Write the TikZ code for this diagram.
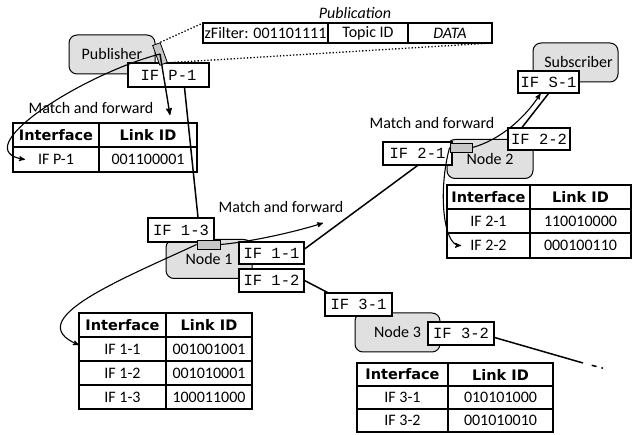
\documentclass[tikz,border=0pt]{standalone}
\usepackage{fontspec}
\setmainfont{Carlito}
\setmonofont{Liberation Mono}
\newfontfamily\headfont{DejaVu Sans}
\usetikzlibrary{arrows,positioning,calc}

\tikzset{
 host/.style={draw,rounded corners=8pt,fill=black!12,line width=1pt,minimum width=86pt,minimum height=39pt,font=\fontsize{16}{18}\selectfont},
 port/.style={draw,fill=black!22,inner sep=0pt,line width=0.8pt},
 ifbox/.style={draw,fill=white,line width=1.1pt,minimum width=65pt,minimum height=23pt,inner sep=0pt,font=\ttfamily\fontsize{15.5}{17}\selectfont},
 cell/.style={draw,line width=1.1pt,inner sep=0pt,outer sep=0pt,font=\fontsize{16}{18}\selectfont},
 head/.style={cell,font=\headfont\bfseries\fontsize{14.5}{17}\selectfont},
 note/.style={font=\fontsize{16}{18}\selectfont},
 link/.style={line width=1.5pt},
 fwd/.style={->,line width=1.1pt},
}

\begin{document}
\begin{tikzpicture}[x=1pt,y=-1pt,>=stealth']
 \useasboundingbox (0,0) rectangle (632,435);

 % hosts and nodes
 \node[host] (pub) at (112,54.5) {Publisher};
 \node[host,minimum width=85pt] (sub) at (575.5,62.5) {\hspace{6pt}Subscriber};
 \node[host] (n1) at (209,259) {Node 1};
 \node[host] (n2) at (490,159) {Node 2};
 \node[host,minimum width=85pt] (n3) at (397.5,332.5) {Node 3};

 % interfaces
 \node[ifbox,minimum width=81pt,minimum height=24pt] (ifP1) at (168.5,75) {IF P-1};
 \node[ifbox,minimum width=61pt,minimum height=22pt] (ifS1) at (548.5,82) {IF S-1};
 \node[ifbox,minimum width=66pt,minimum height=24pt] (if13) at (181,230) {IF 1-3};
 \node[ifbox,minimum height=22pt] (if11) at (271.5,253) {IF 1-1};
 \node[ifbox] (if12) at (271.5,280.5) {IF 1-2};
 \node[ifbox,minimum width=69pt] (if21) at (417.5,153.5) {IF 2-1};
 \node[ifbox,minimum width=62pt,minimum height=22pt] (if22) at (539,139) {IF 2-2};
 \node[ifbox,minimum width=67pt] (if31) at (358.5,304.5) {IF 3-1};
 \node[ifbox,minimum width=66pt] (if32) at (461,333.5) {IF 3-2};

 \node[port,minimum width=8pt,minimum height=21pt,rotate=20] (pp) at (160,54) {};
 \node[port,minimum width=23pt,minimum height=9pt] (p1) at (208.5,244.5) {};
 \node[port,minimum width=22pt,minimum height=9pt] (p2) at (461,147.5) {};

 % publication
 \node[cell,minimum width=125pt,minimum height=20pt,anchor=north west] (pk1) at (203,23) {zFilter: 001101111};
 \node[cell,minimum width=80pt,minimum height=20pt,right=0pt of pk1] (pk2) {Topic ID};
 \node[cell,minimum width=84pt,minimum height=20pt,right=0pt of pk2,font=\itshape\fontsize{16}{18}\selectfont] (pk3) {DATA};
 \node[note,font=\itshape\fontsize{16}{18}\selectfont] (pubn) at (355,13) {Publication};

 % forwarding tables
 \node[head,minimum width=86pt,minimum height=24pt,anchor=north west] (tPa) at (13,123) {Interface};
 \node[head,minimum width=98pt,minimum height=24pt,right=0pt of tPa] (tPb) {Link ID};
 \node[cell,minimum width=86pt,minimum height=25pt,below=0pt of tPa] (tPc) {IF P-1};
 \node[cell,minimum width=98pt,minimum height=25pt,below=0pt of tPb] (tPd) {001100001};

 \node[head,minimum width=87pt,minimum height=24pt,anchor=north west] (t1a) at (79,313) {Interface};
 \node[head,minimum width=86pt,minimum height=24pt,right=0pt of t1a] (t1b) {Link ID};
 \node[cell,minimum width=87pt,minimum height=24pt,below=0pt of t1a] (t1c) {IF 1-1};
 \node[cell,minimum width=86pt,minimum height=24pt,below=0pt of t1b] (t1d) {001001001};
 \node[cell,minimum width=87pt,minimum height=24pt,below=0pt of t1c] (t1e) {IF 1-2};
 \node[cell,minimum width=86pt,minimum height=24pt,below=0pt of t1d] (t1f) {001010001};
 \node[cell,minimum width=87pt,minimum height=24pt,below=0pt of t1e] (t1g) {IF 1-3};
 \node[cell,minimum width=86pt,minimum height=24pt,below=0pt of t1f] (t1h) {100011000};

 \node[head,minimum width=83pt,minimum height=24pt,anchor=north west] (t2a) at (447,185) {Interface};
 \node[head,minimum width=101pt,minimum height=24pt,right=0pt of t2a] (t2b) {Link ID};
 \node[cell,minimum width=83pt,minimum height=24pt,below=0pt of t2a] (t2c) {IF 2-1};
 \node[cell,minimum width=101pt,minimum height=24pt,below=0pt of t2b] (t2d) {110010000};
 \node[cell,minimum width=83pt,minimum height=25pt,below=0pt of t2c] (t2e) {IF 2-2};
 \node[cell,minimum width=101pt,minimum height=25pt,below=0pt of t2d] (t2f) {000100110};

 \node[head,minimum width=91pt,minimum height=23pt,anchor=north west] (t3a) at (357,363) {Interface};
 \node[head,minimum width=105pt,minimum height=23pt,right=0pt of t3a] (t3b) {Link ID};
 \node[cell,minimum width=91pt,minimum height=23pt,below=0pt of t3a] (t3c) {IF 3-1};
 \node[cell,minimum width=105pt,minimum height=23pt,below=0pt of t3b] (t3d) {010101000};
 \node[cell,minimum width=91pt,minimum height=23pt,below=0pt of t3c] (t3e) {IF 3-2};
 \node[cell,minimum width=105pt,minimum height=23pt,below=0pt of t3d] (t3f) {001010010};

 \node[note] (mf1) at (91,108) {Match and forward};
 \node[note] (mf2) at (281,207) {Match and forward};
 \node[note] (mf3) at (432,123) {Match and forward};

 % links
 \draw[dotted,line width=1.3pt] (pp.north east) -- (pk1.north west);
 \draw[dotted,line width=1.3pt] (pp.south east) -- (pk3.south east);
 \draw[link] ([xshift=16pt]ifP1.south) -- ([xshift=17pt]if13.north);
 \draw[link] ([yshift=4pt]if11.east) -- (if21.south);
 \draw[link] (if12.east) -- ([xshift=3pt]if31.north west);
 \draw[link] ([xshift=-17pt]if22.north) -- (ifS1.south);
 \coordinate (e3) at (583,363);
 \coordinate (e3b) at (606,369);
 \draw[link] ([yshift=-4pt]if32.east) -- (e3);
 \draw[link,dash pattern=on 0pt off 9pt on 5pt off 5pt on 1.5pt off 20pt] (e3) -- (e3b);

 % match and forward
 \coordinate (outP) at (170,115);
 \coordinate (out1) at (323,223);
 \draw[fwd,line width=1.4pt] (pp.center) -- (outP);
 \draw[fwd] (pp.center) .. controls (80,75) and (-35,150) .. ([xshift=12pt]tPc.west);
 \draw[fwd] (p1.east) .. controls (250,242) and (295,232) .. (out1);
 \draw[fwd] (p1.west) .. controls (120,280) and (20,320) .. ([yshift=4pt]t1c.west);
 \draw[fwd] (p2.east) .. controls (500,140) and (525,118) .. ([xshift=-8pt]ifS1.south);
 \draw[fwd] (p2.west) .. controls (438,190) and (443,245) .. ([xshift=14pt]t2e.west);
\end{tikzpicture}
\end{document}
